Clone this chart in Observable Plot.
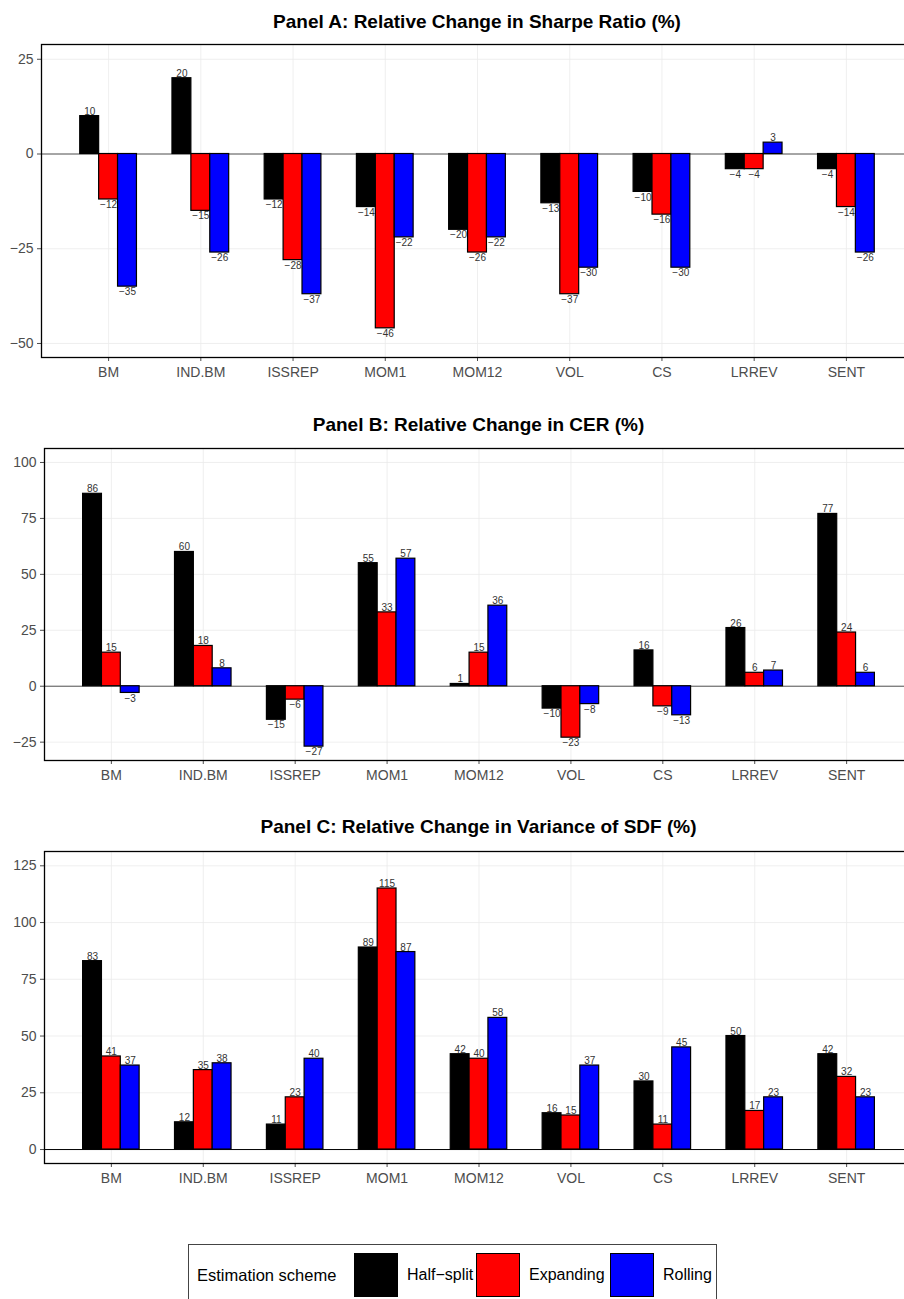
<!DOCTYPE html>
<html><head><meta charset="utf-8">
<script src="https://cdn.jsdelivr.net/npm/d3@7"></script>
<script src="https://cdn.jsdelivr.net/npm/@observablehq/plot@0.6"></script>
<style>
html,body{margin:0;padding:0;overflow:hidden;background:#fff;width:904px;height:1299px}
#root{position:relative;width:904px;height:1299px;overflow:hidden;font-family:"Liberation Sans",Arial,Helvetica,sans-serif}
.title{position:absolute;font-weight:bold;font-size:19px;line-height:19px;text-align:center;color:#000;white-space:nowrap}
.panel{position:absolute;left:0}
.legend{position:absolute;left:188px;top:1244px;width:529px;height:70px;border:1px solid #444;box-sizing:border-box}
.legend .it{position:absolute;white-space:nowrap;color:#000;line-height:20px}
.legend .sw{position:absolute;width:44px;height:44px;box-sizing:border-box;border:1px solid #000}
</style></head><body><div id="root"></div>
<script>
const categories = ["BM","IND.BM","ISSREP","MOM1","MOM12","VOL","CS","LRREV","SENT"];
const schemes = ["Half−split","Expanding","Rolling"];
const schemeColors = ["#000000","#FF0000","#0000FF"];
const legendTitle = "Estimation scheme";

// Panel A: Relative change in Sharpe ratio (%)
const sharpeHalfSplit = [10, 20, -12, -14, -20, -13, -10, -4, -4];
const sharpeExpanding = [-12, -15, -28, -46, -26, -37, -16, -4, -14];
const sharpeRolling   = [-35, -26, -37, -22, -22, -30, -30, 3, -26];
const sharpeTicks = [-50, -25, 0, 25];

// Panel B: Relative change in CER (%)
const cerHalfSplit = [86, 60, -15, 55, 1, -10, 16, 26, 77];
const cerExpanding = [15, 18, -6, 33, 15, -23, -9, 6, 24];
const cerRolling   = [-3, 8, -27, 57, 36, -8, -13, 7, 6];
const cerTicks = [-25, 0, 25, 50, 75, 100];

// Panel C: Relative change in variance of SDF (%)
const sdfHalfSplit = [83, 12, 11, 89, 42, 16, 30, 50, 42];
const sdfExpanding = [41, 35, 23, 115, 40, 15, 11, 17, 32];
const sdfRolling   = [37, 38, 40, 87, 58, 37, 45, 23, 23];
const sdfTicks = [0, 25, 50, 75, 100, 125];

const panels = [
  {title:"Panel A: Relative Change in Sharpe Ratio (%)", top:0, height:382, mt:44, ml:41,
   domain:[-53.7, 28.9], ticks:sharpeTicks, series:[sharpeHalfSplit, sharpeExpanding, sharpeRolling], zero:"#555", titleY:22},
  {title:"Panel B: Relative Change in CER (%)", top:382, height:403, mt:66, ml:44,
   domain:[-33.2, 106.25], ticks:cerTicks, series:[cerHalfSplit, cerExpanding, cerRolling], zero:"#555", titleY:424.5},
  {title:"Panel C: Relative Change in Variance of SDF (%)", top:785, height:403, mt:66, ml:44,
   domain:[-6.15, 131.3], ticks:sdfTicks, series:[sdfHalfSplit, sdfExpanding, sdfRolling], zero:"#000", titleY:826.7}
];

const fmt = d3.format("d");
const root = document.getElementById("root");
const W = 913, PI = 0.795, PO = 0.625;

panels.forEach(cfg => {
  const step = (W - cfg.ml) / (categories.length - PI + 2*PO);
  const bw = step * (1 - PI);
  const rows = [];
  schemes.forEach((s, i) => cfg.series[i].forEach((v, j) => rows.push({cat: categories[j], scheme: s, value: v})));
  const marks = [
    Plot.ruleY(cfg.ticks, {stroke: "#ebebeb", strokeWidth: 0.8}),
    Plot.ruleX(categories, {stroke: "#ebebeb", strokeWidth: 0.8}),
    Plot.ruleY([0], {stroke: cfg.zero, strokeWidth: 1})
  ];
  schemes.forEach((s, i) => {
    const dx = (i - 1) * bw;
    const data = rows.filter(d => d.scheme === s);
    marks.push(Plot.barY(data, {x: "cat", y: "value", fill: schemeColors[i], stroke: "#000", strokeWidth: 1.2, dx}));
    marks.push(Plot.text(data.filter(d => d.value >= 0), {x: "cat", y: "value", text: d => fmt(d.value), dx, dy: -1.5, lineAnchor: "bottom", fontSize: 10, fill: "#333"}));
    marks.push(Plot.text(data.filter(d => d.value < 0), {x: "cat", y: "value", text: d => fmt(d.value), dx, dy: 1.5, lineAnchor: "top", fontSize: 10, fill: "#333"}));
  });
  marks.push(Plot.frame({stroke: "#000", strokeWidth: 1.3}));
  const svg = Plot.plot({
    width: W, height: cfg.height, marginTop: cfg.mt, marginBottom: 25, marginLeft: cfg.ml, marginRight: 0,
    style: {fontFamily: '"Liberation Sans", Arial, sans-serif', fontSize: "14px", color: "#4d4d4d", background: "white", overflow: "visible", maxWidth: "none"},
    x: {type: "band", domain: categories, paddingInner: PI, paddingOuter: PO, align: 0.5, round: false, label: null, tickSize: 4, tickPadding: 6},
    y: {domain: cfg.domain, ticks: cfg.ticks, tickFormat: fmt, label: null, tickSize: 4, tickPadding: 4},
    marks
  });
  svg.style.maxWidth = "none";
  const wrap = document.createElement("div");
  wrap.className = "panel";
  wrap.style.top = cfg.top + "px";
  wrap.appendChild(svg);
  root.appendChild(wrap);
  const t = document.createElement("div");
  t.className = "title";
  t.textContent = cfg.title;
  t.style.left = cfg.ml + "px";
  t.style.width = (W - cfg.ml) + "px";
  t.style.top = (cfg.titleY - 10) + "px";
  root.appendChild(t);
});

// legend (positions relative to legend box)
const lg = document.createElement("div");
lg.className = "legend";
function addText(txt, left, size) {
  const e = document.createElement("div");
  e.className = "it"; e.textContent = txt;
  e.style.left = left + "px"; e.style.top = "20px"; e.style.fontSize = size + "px";
  lg.appendChild(e);
}
addText(legendTitle, 8, 16.5);
const swLeft = [165, 287, 421];
const lbLeft = [218, 340, 474];
schemes.forEach((s, i) => {
  const sw = document.createElement("div");
  sw.className = "sw"; sw.style.background = schemeColors[i];
  sw.style.left = swLeft[i] + "px"; sw.style.top = "8px";
  lg.appendChild(sw);
  addText(s, lbLeft[i], 16);
});
root.appendChild(lg);
</script></body></html>
